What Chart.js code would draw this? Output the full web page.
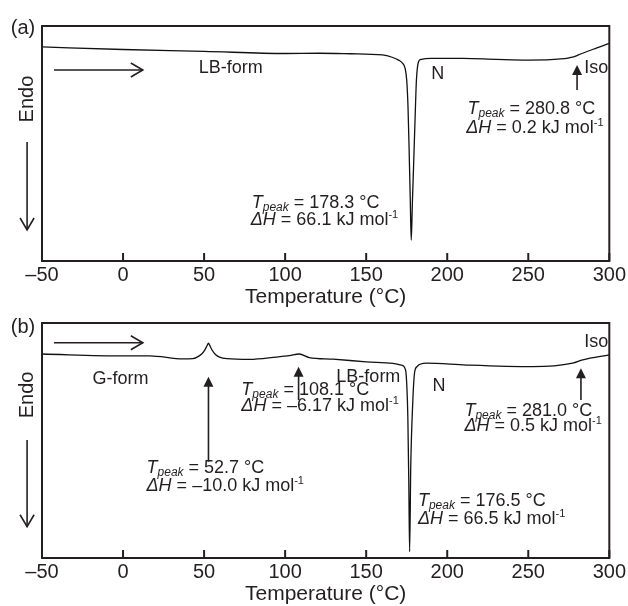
<!DOCTYPE html>
<html><head><meta charset="utf-8">
<script src="https://cdn.jsdelivr.net/npm/chart.js@4.4.1/dist/chart.umd.min.js"></script>
<style>
html,body{margin:0;padding:0;background:#fff;width:628px;height:606px;overflow:hidden;}
#wrap{position:relative;width:628px;height:606px;overflow:hidden;background:#fff;}
canvas{position:absolute;left:0;}
#ca{top:0}
#cb{top:297px}
</style></head><body>
<div id="wrap"><canvas id="ca" width="628" height="320"></canvas><canvas id="cb" width="628" height="320"></canvas></div>
<script>
// ---- data (heat flow, arbitrary units; endo down) ----
const tempA = [-50, 0, 50, 100, 121, 140, 160, 166, 170, 172.5, 174, 175, 175.8, 176.5, 177.2, 177.8, 178.5, 179.3, 180.3, 181, 182.3, 184, 190, 210, 230, 250, 270, 278, 281, 290, 300];
const heatA = [91.1, 90.0, 89.2, 88.3, 88.4, 88.2, 87.7, 86.7, 85.5, 84.1, 82.0, 77.0, 65.7, 47.2, 26.0, 8.9, 24.7, 41.6, 63.4, 77.0, 84.8, 85.8, 86.2, 86.2, 85.8, 85.5, 86.0, 86.9, 87.7, 90.1, 92.6];
const tempB = [-50, 0, 16.5, 37, 43, 46, 48.5, 50.5, 51.8, 52.7, 53.6, 55, 57, 59.5, 64, 78.2, 94.6, 102.6, 108.7, 114.9, 129.5, 150.1, 166.5, 171.6, 174.3, 175.1, 175.7, 176.3, 176.8, 177.5, 178.8, 179.8, 181.3, 187, 211.7, 252.8, 277.4, 283.6, 300];
const heatB = [86.8, 86.0, 86.0, 84.7, 84.8, 85.6, 86.8, 88.6, 90.3, 91.4, 90.3, 88.4, 86.6, 85.5, 84.8, 84.5, 85.5, 86.1, 86.8, 85.3, 84.6, 83.5, 82.8, 82.1, 80.0, 72.9, 60.1, 31.8, 2.7, 38.9, 67.2, 78.6, 81.4, 82.9, 82.1, 81.4, 82.9, 84.3, 86.4];
const xTicks = [-50, 0, 50, 100, 150, 200, 250, 300];
const xTickLabels = ['\u201350', '0', '50', '100', '150', '200', '250', '300'];
const xTitle = 'Temperature (\u00B0C)';
const yLabel = 'Endo';

// ---- annotations (data coordinates) ----
const annA = [
  {k:'text', t:'(a)', x:-61.7, y:99.1, size:20, align:'center'},
  {k:'vtext', t:yLabel, x:-58.9, y:68.9},
  {k:'arrowDown', x:-59.2, y1:50.6, y2:13.2},
  {k:'arrowRight', y:81.3, x1:-42.6, x2:12.2},
  {k:'text', t:'LB-form', x:46.7, y:82.1},
  {k:'text', t:'N', x:190.1, y:79.6},
  {k:'arrowUp', x:280.1, y1:72.8, y2:83.4},
  {k:'text', t:'Iso', x:284.6, y:82.1},
  {k:'tpeak', val:'280.8', x:212.5, y:65.1},
  {k:'dh', val:'0.2', x:211.7, y:57.4},
  {k:'tpeak', val:'178.3', x:79.4, y:25.1},
  {k:'dh', val:'66.1', x:78.8, y:17.9}
];
const annB = [
  {k:'text', t:'(b)', x:-61.7, y:97.9, size:20, align:'center'},
  {k:'vtext', t:yLabel, x:-58.9, y:69.4},
  {k:'arrowDown', x:-59.2, y1:50.2, y2:13.3},
  {k:'arrowRight', y:91.6, x1:-42.6, x2:12.2},
  {k:'text', t:'G-form', x:-18.8, y:76.2},
  {k:'arrowUp', x:52.7, y1:41, y2:77.1},
  {k:'tpeak', val:'52.7', x:14.5, y:38.9},
  {k:'dh', val:'\u201310.0', x:14.5, y:31.1},
  {k:'arrowUp', x:108.3, y1:67.2, y2:81.4},
  {k:'tpeak', val:'108.1', x:73, y:72.0},
  {k:'dh', val:'\u20136.17', x:73, y:65.3},
  {k:'text', t:'LB-form', x:131.6, y:77.0},
  {k:'text', t:'N', x:190.9, y:73.2},
  {k:'text', t:'Iso', x:284.6, y:92},
  {k:'arrowUp', x:282.5, y1:67.2, y2:80.7},
  {k:'tpeak', val:'281.0', x:210.6, y:63},
  {k:'dh', val:'0.5', x:210.6, y:56.6},
  {k:'tpeak', val:'176.5', x:181.9, y:24.7},
  {k:'dh', val:'66.5', x:181.9, y:17}
];

const FF = "'Liberation Sans', Arial, Helvetica, sans-serif";
const INK = '#231f20';
const AS = 18; // annotation font size

function drawRich(ctx, x, yc, segs){
  const base = yc + 0.358*AS;
  let cx = x;
  ctx.textAlign = 'left';
  ctx.textBaseline = 'alphabetic';
  segs.forEach(s=>{
    ctx.font = (s.it ? 'italic ' : '') + s.size + 'px ' + FF;
    ctx.fillText(s.t, cx, base + (s.dy||0));
    cx += ctx.measureText(s.t).width;
  });
}

function deco(ann){
  return {
    id:'deco',
    afterDraw(chart){
      const {ctx, chartArea:a, scales} = chart;
      const X = v => scales.x.getPixelForValue(v);
      const Y = v => scales.y.getPixelForValue(v);
      ctx.save();
      ctx.strokeStyle = INK; ctx.fillStyle = INK;
      ctx.lineWidth = 2;
      ctx.strokeRect(a.left, a.top, a.right - a.left, a.bottom - a.top);
      xTicks.forEach(v=>{
        const px = X(v);
        ctx.beginPath(); ctx.moveTo(px, a.bottom); ctx.lineTo(px, a.bottom - 8); ctx.stroke();
      });
      ann.forEach(o=>{
        ctx.fillStyle = INK; ctx.strokeStyle = INK;
        if (o.k === 'text'){
          ctx.font = (o.size||18) + 'px ' + FF;
          ctx.textAlign = o.align || 'left';
          ctx.textBaseline = 'middle';
          ctx.fillText(o.t, X(o.x), Y(o.y));
        } else if (o.k === 'vtext'){
          ctx.save();
          ctx.translate(X(o.x), Y(o.y));
          ctx.rotate(-Math.PI/2);
          ctx.font = '20px ' + FF;
          ctx.textAlign = 'center'; ctx.textBaseline = 'middle';
          ctx.fillText(o.t, 0, 0);
          ctx.restore();
        } else if (o.k === 'arrowRight'){
          const y = Y(o.y), x1 = X(o.x1), x2 = X(o.x2);
          ctx.lineWidth = 1.6;
          ctx.beginPath(); ctx.moveTo(x1, y); ctx.lineTo(x2, y); ctx.stroke();
          ctx.beginPath(); ctx.moveTo(x2 - 12, y - 7); ctx.lineTo(x2, y); ctx.lineTo(x2 - 12, y + 7); ctx.stroke();
        } else if (o.k === 'arrowDown'){
          const x = X(o.x), y1 = Y(o.y1), y2 = Y(o.y2);
          ctx.lineWidth = 1.6;
          ctx.beginPath(); ctx.moveTo(x, y1); ctx.lineTo(x, y2); ctx.stroke();
          ctx.beginPath(); ctx.moveTo(x - 7, y2 - 12); ctx.lineTo(x, y2); ctx.lineTo(x + 7, y2 - 12); ctx.stroke();
        } else if (o.k === 'arrowUp'){
          const x = X(o.x), y1 = Y(o.y1), y2 = Y(o.y2);
          ctx.lineWidth = 1.6;
          ctx.beginPath(); ctx.moveTo(x, y1); ctx.lineTo(x, y2 + 8); ctx.stroke();
          ctx.beginPath(); ctx.moveTo(x, y2); ctx.lineTo(x - 5, y2 + 10); ctx.lineTo(x + 5, y2 + 10); ctx.closePath(); ctx.fill();
        } else if (o.k === 'tpeak'){
          drawRich(ctx, X(o.x), Y(o.y), [
            {t:'T', it:true, size:AS},
            {t:'peak', it:true, size:12, dy:3},
            {t:' = ' + o.val + ' \u00B0C', size:AS}
          ]);
        } else if (o.k === 'dh'){
          drawRich(ctx, X(o.x), Y(o.y), [
            {t:'\u0394H', it:true, size:AS},
            {t:' = ' + o.val + ' kJ mol', size:AS},
            {t:'-1', size:11, dy:-7}
          ]);
        }
      });
      ctx.restore();
    }
  };
}

function makeChart(id, temps, heats, ann){
  return new Chart(document.getElementById(id), {
    type:'line',
    data:{datasets:[{
      data: temps.map((t,i)=>({x:t, y:heats[i]})),
      borderColor:'#111', borderWidth:1.3, pointRadius:0,
      cubicInterpolationMode:'monotone', fill:false
    }]},
    options:{
      responsive:false, animation:false, devicePixelRatio:1,
      layout:{padding:{left:42, right:18, top:26, bottom:0}},
      plugins:{legend:{display:false}, tooltip:{enabled:false}},
      scales:{
        x:{
          type:'linear', min:-50, max:300,
          afterBuildTicks: s => { s.ticks = xTicks.map(v=>({value:v})); },
          afterFit: s => { s.height = 59; },
          ticks:{autoSkip:false, maxRotation:0, padding:2, color:INK,
                 font:{family:FF, size:20},
                 callback:(v)=> xTickLabels[xTicks.indexOf(v)]},
          grid:{display:false, drawTicks:false},
          border:{display:false},
          title:{display:true, text:xTitle, color:INK, font:{family:FF, size:21}, padding:{top:0, bottom:10}}
        },
        y:{display:false, min:0, max:100}
      }
    },
    plugins:[deco(ann)]
  });
}
makeChart('ca', tempA, heatA, annA);
makeChart('cb', tempB, heatB, annB);
</script>
</body></html>
